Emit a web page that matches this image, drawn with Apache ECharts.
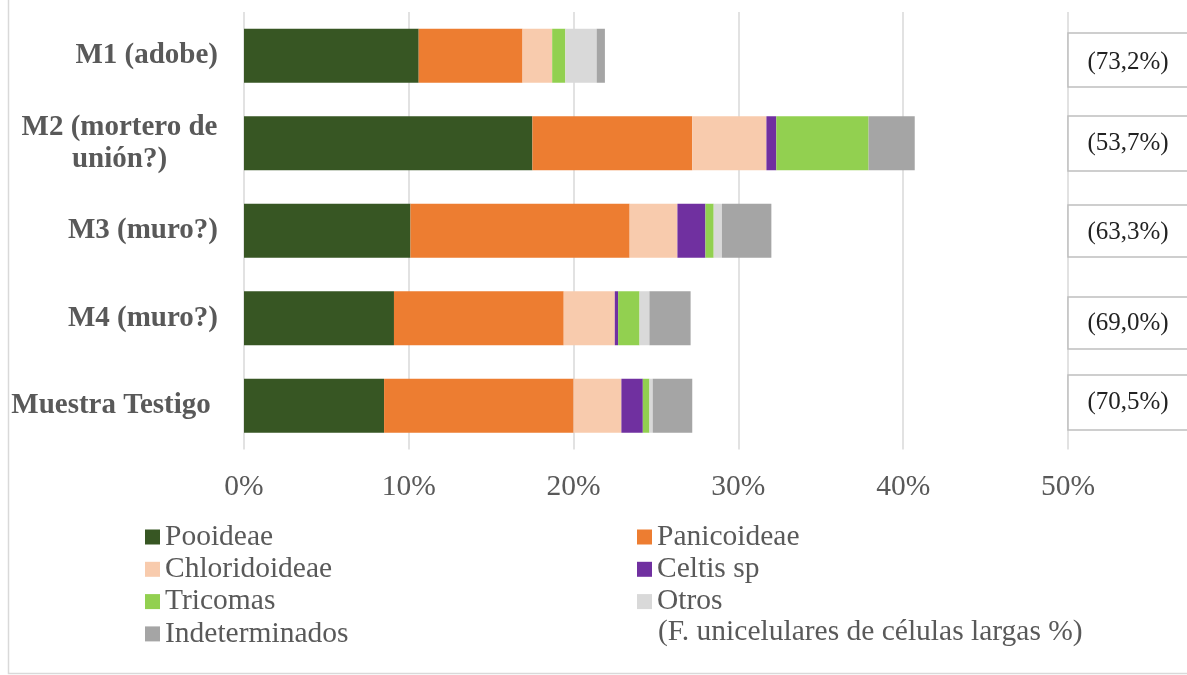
<!DOCTYPE html>
<html>
<head>
<meta charset="utf-8">
<script src="https://cdn.jsdelivr.net/npm/echarts@6/dist/echarts.min.js"></script>
<style>html,body{margin:0;padding:0;background:#fff}#c{width:1187px;height:675px}</style>
</head>
<body>
<div id="c"></div>
<script>
var categories = ['M1 (adobe)', 'M2 (mortero de\nunión?)', 'M3 (muro?)', 'M4 (muro?)', 'Muestra Testigo '];
var pooideae       = [10.6, 17.5, 10.1, 9.1, 8.5];
var panicoideae    = [6.3, 9.7, 13.3, 10.3, 11.5];
var chloridoideae  = [1.8, 4.5, 2.9, 3.1, 2.9];
var celtis         = [0, 0.6, 1.7, 0.2, 1.3];
var tricomas       = [0.8, 5.6, 0.5, 1.3, 0.4];
var otros          = [1.9, 0, 0.5, 0.6, 0.2];
var indeterminados = [0.5, 2.8, 3.0, 2.5, 2.4];
var rightLabels = ['(73,2%)', '(53,7%)', '(63,3%)', '(69,0%)', '(70,5%)'];
var xTicks = [0, 10, 20, 30, 40, 50];
var legendNote = '(F. unicelulares de células largas %)';

var seriesDefs = [
  ['Pooideae', pooideae, '#375623'],
  ['Panicoideae', panicoideae, '#ED7D31'],
  ['Chloridoideae', chloridoideae, '#F8CBAD'],
  ['Celtis sp', celtis, '#7030A0'],
  ['Tricomas', tricomas, '#92D050'],
  ['Otros', otros, '#D9D9D9'],
  ['Indeterminados', indeterminados, '#A5A5A5']
];

var FONT = 'Liberation Serif';
var chart = echarts.init(document.getElementById('c'));

var boxes = [[33, 87, 62], [116, 171, 143], [205, 257, 232], [297, 349, 323], [375, 430, 402]];
var graphics = [{
  type: 'rect', z: -10, silent: true,
  shape: { x: 8.5, y: -20, width: 1300, height: 693.5 },
  style: { fill: 'none', stroke: '#d9d9d9', lineWidth: 1.5 }
}];
boxes.forEach(function (b, i) {
  graphics.push({
    type: 'rect', z: 10, silent: true,
    shape: { x: 1068, y: b[0], width: 140, height: b[1] - b[0] },
    style: { fill: '#fff', stroke: '#bfbfbf', lineWidth: 1.5 }
  });
  graphics.push({
    type: 'text', z: 11, silent: true, x: 1128, y: b[2],
    style: { text: rightLabels[i], font: '25px "' + FONT + '"', fill: '#222', align: 'center', verticalAlign: 'middle' }
  });
});
graphics.push({
  type: 'text', silent: true, x: 658, y: 632,
  style: { text: legendNote, font: '29.5px "' + FONT + '"', fill: '#595959', align: 'left', verticalAlign: 'middle' }
});

var legendText = { fontFamily: FONT, fontSize: 29.5, color: '#595959', lineHeight: 28 };

chart.setOption({
  animation: false,
  backgroundColor: '#fff',
  grid: { left: 244, right: 119, top: 12, height: 437.5, outerBoundsMode: 'none' },
  xAxis: {
    type: 'value', min: 0, max: 50, interval: 10,
    axisLine: { show: false }, axisTick: { show: false },
    splitLine: { lineStyle: { color: '#d9d9d9', width: 1.5 } },
    axisLabel: {
      formatter: '{value}%', margin: 23,
      fontFamily: FONT, fontSize: 29.5, color: '#595959'
    }
  },
  yAxis: {
    type: 'category', inverse: true, data: categories,
    axisLine: { show: false }, axisTick: { show: false },
    axisLabel: {
      margin: 26, fontFamily: FONT, fontSize: 29, fontWeight: 'bold', color: '#595959',
      formatter: function (v) {
        if (v.indexOf('\n') >= 0) {
          return v.split('\n').map(function (s) { return '{c|' + s + '}'; }).join('\n');
        }
        return v;
      },
      rich: {
        c: { width: 197, align: 'center', fontFamily: FONT, fontSize: 29, fontWeight: 'bold', color: '#595959', lineHeight: 32 }
      }
    }
  },
  legend: [
    {
      orient: 'vertical', left: 145, top: 522, padding: 0, itemWidth: 15, itemHeight: 15, itemGap: 2.3,
      selectedMode: false, icon: 'rect', textStyle: legendText,
      data: ['Pooideae', 'Chloridoideae', 'Tricomas', 'Indeterminados']
    },
    {
      orient: 'vertical', left: 637, top: 522, padding: 0, itemWidth: 15, itemHeight: 15, itemGap: 2.3,
      selectedMode: false, icon: 'rect', textStyle: legendText,
      data: ['Panicoideae', 'Celtis sp', 'Otros']
    }
  ],
  graphic: graphics,
  series: seriesDefs.map(function (d) {
    return {
      name: d[0], type: 'bar', stack: 'total', data: d[1], barWidth: 54,
      itemStyle: { color: d[2] }
    };
  })
});
</script>
</body>
</html>
